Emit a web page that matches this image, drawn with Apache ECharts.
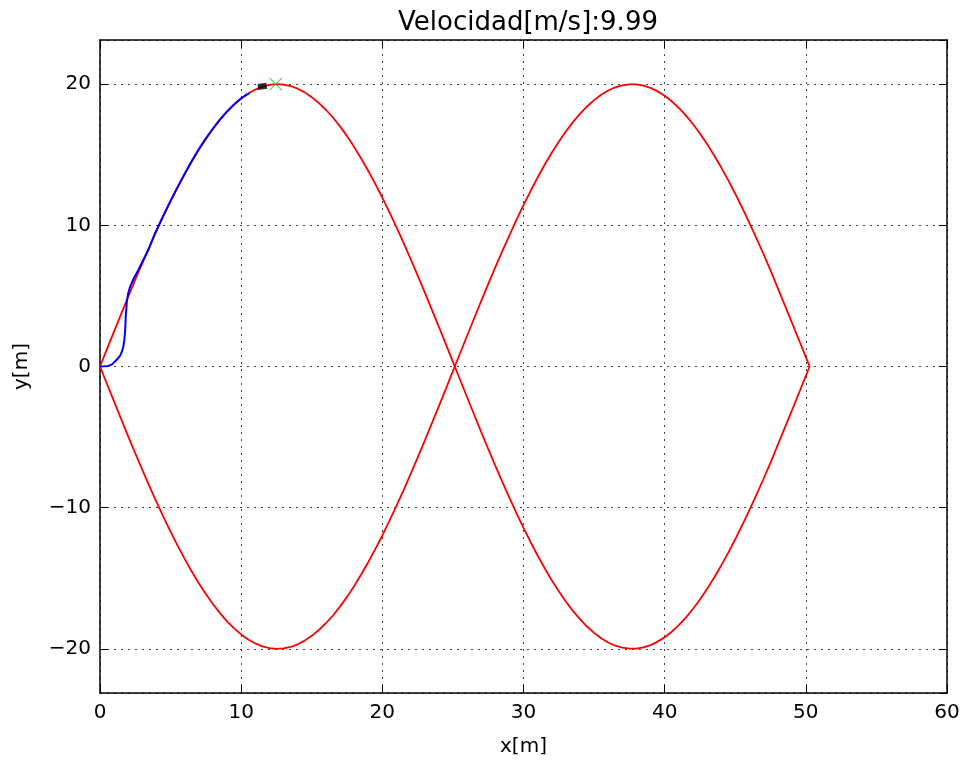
<!DOCTYPE html>
<html>
<head>
<meta charset="utf-8">
<script src="https://cdn.jsdelivr.net/npm/echarts@6/dist/echarts.min.js"></script>
<style>
  * { margin: 0; padding: 0; }
  body { background: #fff; }
  #chart { width: 963px; height: 763px; }
</style>
</head>
<body>
<div id="chart"></div>
<script>
// reference path (red), upper and lower halves, read every 0.5 m
const pathX = [0, 0.5, 1, 1.5, 2, 2.5, 3, 3.5, 4, 4.5, 5, 5.5, 6, 6.5, 7, 7.5, 8, 8.5, 9, 9.5,
  10, 10.5, 11, 11.5, 12, 12.5, 13, 13.5, 14, 14.5, 15, 15.5, 16, 16.5, 17, 17.5, 18, 18.5, 19, 19.5,
  20, 20.5, 21, 21.5, 22, 22.5, 23, 23.5, 24, 24.5, 25, 25.5, 26, 26.5, 27, 27.5, 28, 28.5, 29, 29.5,
  30, 30.5, 31, 31.5, 32, 32.5, 33, 33.5, 34, 34.5, 35, 35.5, 36, 36.5, 37, 37.5, 38, 38.5, 39, 39.5,
  40, 40.5, 41, 41.5, 42, 42.5, 43, 43.5, 44, 44.5, 45, 45.5, 46, 46.5, 47, 47.5, 48, 48.5, 49, 49.5,
  50, 50.27];
const pathUp = [0, 1.25, 2.49, 3.73, 4.95, 6.15, 7.33, 8.47, 9.59, 10.67, 11.70, 12.69, 13.63, 14.52, 15.35, 16.12, 16.83, 17.47, 18.05, 18.55,
  18.98, 19.34, 19.62, 19.83, 19.95, 20.00, 19.97, 19.87, 19.68, 19.42, 19.08, 18.67, 18.19, 17.64, 17.01, 16.32, 15.56, 14.74, 13.87, 12.94,
  11.97, 10.94, 9.88, 8.77, 7.63, 6.46, 5.27, 4.05, 2.82, 1.58, 0.33, -0.92, -2.16, -3.40, -4.63, -5.83, -7.02, -8.17, -9.29, -10.38,
  -11.43, -12.43, -13.39, -14.29, -15.14, -15.92, -16.65, -17.31, -17.90, -18.42, -18.87, -19.25, -19.55, -19.78, -19.92, -19.99, -19.99, -19.90, -19.74, -19.49,
  -19.18, -18.79, -18.32, -17.79, -17.18, -16.50, -15.77, -14.96, -14.11, -13.20, -12.24, -11.23, -10.17, -9.09, -7.97, -6.81, -5.59, -4.37, -3.15, -1.91,
  -0.66, 0];
const pathDown = [0, -1.25, -2.49, -3.73, -4.95, -6.15, -7.33, -8.47, -9.59, -10.67, -11.70, -12.69, -13.63, -14.52, -15.35, -16.12, -16.83, -17.47, -18.05, -18.55,
  -18.98, -19.34, -19.62, -19.83, -19.95, -20.00, -19.97, -19.87, -19.68, -19.42, -19.08, -18.67, -18.19, -17.64, -17.01, -16.32, -15.56, -14.74, -13.87, -12.94,
  -11.97, -10.94, -9.88, -8.77, -7.63, -6.46, -5.27, -4.05, -2.82, -1.58, -0.33, 0.92, 2.16, 3.40, 4.63, 5.83, 7.02, 8.17, 9.29, 10.38,
  11.43, 12.43, 13.39, 14.29, 15.14, 15.92, 16.65, 17.31, 17.90, 18.42, 18.87, 19.25, 19.55, 19.78, 19.92, 19.99, 19.99, 19.90, 19.74, 19.49,
  19.18, 18.79, 18.32, 17.79, 17.18, 16.50, 15.77, 14.96, 14.11, 13.20, 12.24, 11.23, 10.17, 9.09, 7.97, 6.81, 5.59, 4.37, 3.15, 1.91,
  0.66, 0];

// travelled trajectory (blue)
const trackX = [0, 0.3, 0.6, 0.85, 1.06, 1.25, 1.42, 1.55, 1.65, 1.72, 1.77, 1.8, 1.82, 1.86, 1.89, 1.94, 2.0, 2.1, 2.24, 2.4, 2.59, 2.95, 3.42,
  3.9, 4.5, 5, 5.5, 6, 6.5, 7, 7.5, 8, 8.5, 9, 9.5, 10, 10.3, 10.6];
const trackY = [0, 0.01, 0.04, 0.15, 0.35, 0.55, 0.75, 1.05, 1.4, 1.85, 2.38, 2.9, 3.53, 4.0, 4.48, 4.85, 5.19, 5.55, 5.9, 6.25, 6.6, 7.31, 8.25,
  9.45, 10.72, 11.75, 12.72, 13.66, 14.55, 15.4, 16.16, 16.86, 17.5, 18.07, 18.57, 19.0, 19.2, 19.37];

const vehicle = [11.5, 19.85];
const target = [12.45, 20];

const xTicks = [0, 10, 20, 30, 40, 50, 60];
const yTicks = [-20, -10, 0, 10, 20];

const titleText = "Velocidad[m/s]:9.99";

const chart = echarts.init(document.getElementById("chart"), null, { renderer: "canvas" });

const font = "DejaVu Sans";
const dotted = { color: "#444", width: 1, type: [2, 5] };

const yLabel = (v) => {
  if (!yTicks.includes(Math.round(v * 1000) / 1000)) return "";
  return v < 0 ? "\u2212" + Math.abs(v) : String(v);
};

const option = {
  animation: false,
  backgroundColor: "#fff",
  title: {
    text: titleText,
    left: 523,
    textAlign: "center",
    top: 5,
    textStyle: { fontFamily: font, fontSize: 26, fontWeight: "normal", color: "#000" },
  },
  grid: { left: 100, right: 16, top: 40, bottom: 70 },
  xAxis: [
    {
      type: "value",
      min: 0,
      max: 60,
      interval: 10,
      name: "x[m]",
      nameLocation: "middle",
      nameGap: 44,
      nameTextStyle: { fontFamily: font, fontSize: 20, color: "#000" },
      axisLine: { onZero: false, lineStyle: { color: "#000", width: 1.5 } },
      axisTick: { inside: true, length: 8, lineStyle: { color: "#000" } },
      axisLabel: { fontFamily: font, fontSize: 20, color: "#000", margin: 10 },
      splitLine: { show: true, lineStyle: dotted },
    },
    {
      type: "value",
      position: "top",
      min: 0,
      max: 60,
      interval: 10,
      axisLine: { onZero: false, lineStyle: { color: "#000", width: 1.5 } },
      axisTick: { inside: true, length: 8, lineStyle: { color: "#000" } },
      axisLabel: { show: false },
      splitLine: { show: false },
    },
  ],
  yAxis: [
    {
      type: "value",
      min: -23.13,
      max: 23.13,
      splitNumber: 5,
      name: "y[m]",
      nameLocation: "middle",
      nameGap: 68,
      nameTextStyle: { fontFamily: font, fontSize: 20, color: "#000" },
      axisLine: { onZero: false, lineStyle: { color: "#000", width: 1.5 } },
      axisTick: { inside: true, length: 8, lineStyle: { color: "#000" } },
      axisLabel: { fontFamily: font, fontSize: 20, color: "#000", margin: 9, formatter: yLabel, showMinLabel: false, showMaxLabel: false },
      splitLine: { show: true, lineStyle: dotted },
    },
    {
      type: "value",
      position: "right",
      min: -23.13,
      max: 23.13,
      splitNumber: 5,
      axisLine: { onZero: false, lineStyle: { color: "#000", width: 1.5 } },
      axisTick: { inside: true, length: 8, lineStyle: { color: "#000" } },
      axisLabel: { show: false },
      splitLine: { show: false },
    },
  ],
  series: [
    {
      type: "line",
      data: pathX.map((x, i) => [x, pathUp[i]]),
      showSymbol: false,
      lineStyle: { color: "#ff0000", width: 1.8 },
      z: 2,
    },
    {
      type: "line",
      data: pathX.map((x, i) => [x, pathDown[i]]),
      showSymbol: false,
      lineStyle: { color: "#ff0000", width: 1.8 },
      z: 2,
    },
    {
      type: "line",
      data: trackX.map((x, i) => [x, trackY[i]]),
      showSymbol: false,
      lineStyle: { color: "#0000ff", width: 2 },
      z: 3,
    },
    {
      type: "scatter",
      data: [vehicle],
      symbol: "rect",
      symbolSize: [9, 6],
      symbolRotate: 8,
      itemStyle: { color: "#000" },
      z: 4,
    },
    {
      type: "scatter",
      data: [target],
      symbol: "path://M0,0L10,10M10,0L0,10",
      symbolSize: 12,
      itemStyle: { color: "none", borderColor: "#4cb04c", borderWidth: 1.2 },
      z: 4,
    },
  ],
};

chart.setOption(option);
</script>
</body>
</html>
